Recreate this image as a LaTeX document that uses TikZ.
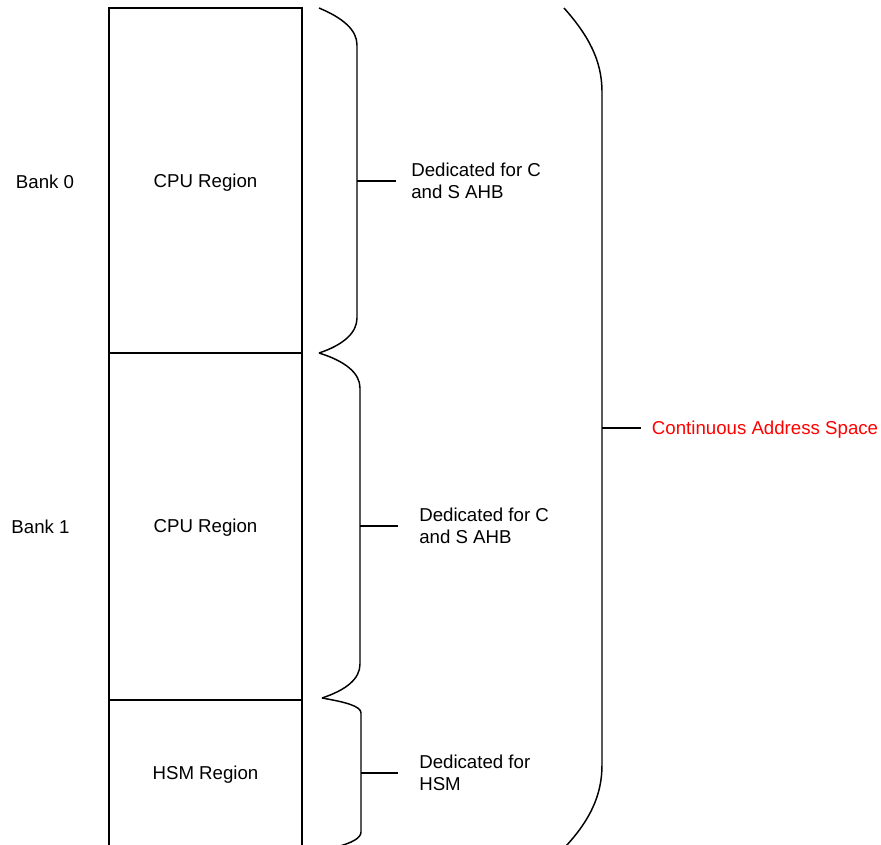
\documentclass[tikz,border=0pt]{standalone}
\usepackage{fontspec}
\setmainfont{Liberation Sans}
\usetikzlibrary{positioning}
\definecolor{ink}{HTML}{000000}
\definecolor{addr}{HTML}{FF0000}

\begin{document}
\begin{tikzpicture}[x=0.75pt, y=-0.75pt,
    wall/.style={draw=ink, line width=1.6pt},
    brace/.style={draw=ink, line width=1.1pt},
    tick/.style={draw=ink, line width=1.5pt},
    txt/.style={font=\fontsize{14}{16.5}\selectfont, text=ink, inner sep=0pt},
    lbl/.style={txt, align=left, anchor=west}]
  \useasboundingbox (0,0) rectangle (881,844);
  \draw[wall] (109,860) -- (109,8) -- (302,8) -- (302,860);
  \draw[wall] (109,353) -- (302,353);
  \draw[wall] (109,700) -- (302,700);

  \node[txt] (bank0) at (45,182) {Bank 0};
  \node[txt] (cpu0) at (205.5,183) {CPU Region};
  \node[txt] (bank1) at (40.5,527) {Bank 1};
  \node[txt] (cpu1) at (205.5,528) {CPU Region};
  \node[txt] (hsm) at (205.5,775) {HSM Region};

  \draw[brace] (319,8) .. controls (343,18) and (357,30) .. (357,45) -- (357,318)
    .. controls (357,333) and (343,345) .. (319,353);
  \draw[brace] (319,353) .. controls (345,361) and (360,373) .. (360,388) -- (360,664)
    .. controls (360,679) and (346,690) .. (322,698);
  \draw[brace] (322,698) .. controls (345,702) and (361,706) .. (361,713) -- (361,832)
    .. controls (361,838) and (352,843) .. (336,847);
  \draw[brace] (564,8) .. controls (588,35) and (602,60) .. (602,92) -- (602,765)
    .. controls (602,795) and (590,820) .. (566,846);

  \coordinate (b0) at (357,181);
  \coordinate (b1) at (360,526);
  \coordinate (b2) at (361,773);
  \coordinate (ball) at (602,428);

  \node[lbl, inner xsep=11.25pt, right=29.25pt of b0] (ded0) {Dedicated for C\\and S AHB};
  \node[lbl, inner xsep=15.75pt, right=28.5pt of b1] (ded1) {Dedicated for C\\and S AHB};
  \node[lbl, inner xsep=15.75pt, right=27.75pt of b2] (ded2) {Dedicated for\\HSM};
  \node[lbl, inner xsep=8pt, right=29.25pt of ball, yshift=-1.5pt, text=addr] (space) {Continuous Address Space};

  \draw[tick] (b0) -- (ded0.west);
  \draw[tick] (b1) -- (ded1.west);
  \draw[tick] (b2) -- (ded2.west);
  \draw[tick] (ball) -- (space.west |- ball);
\end{tikzpicture}
\end{document}
